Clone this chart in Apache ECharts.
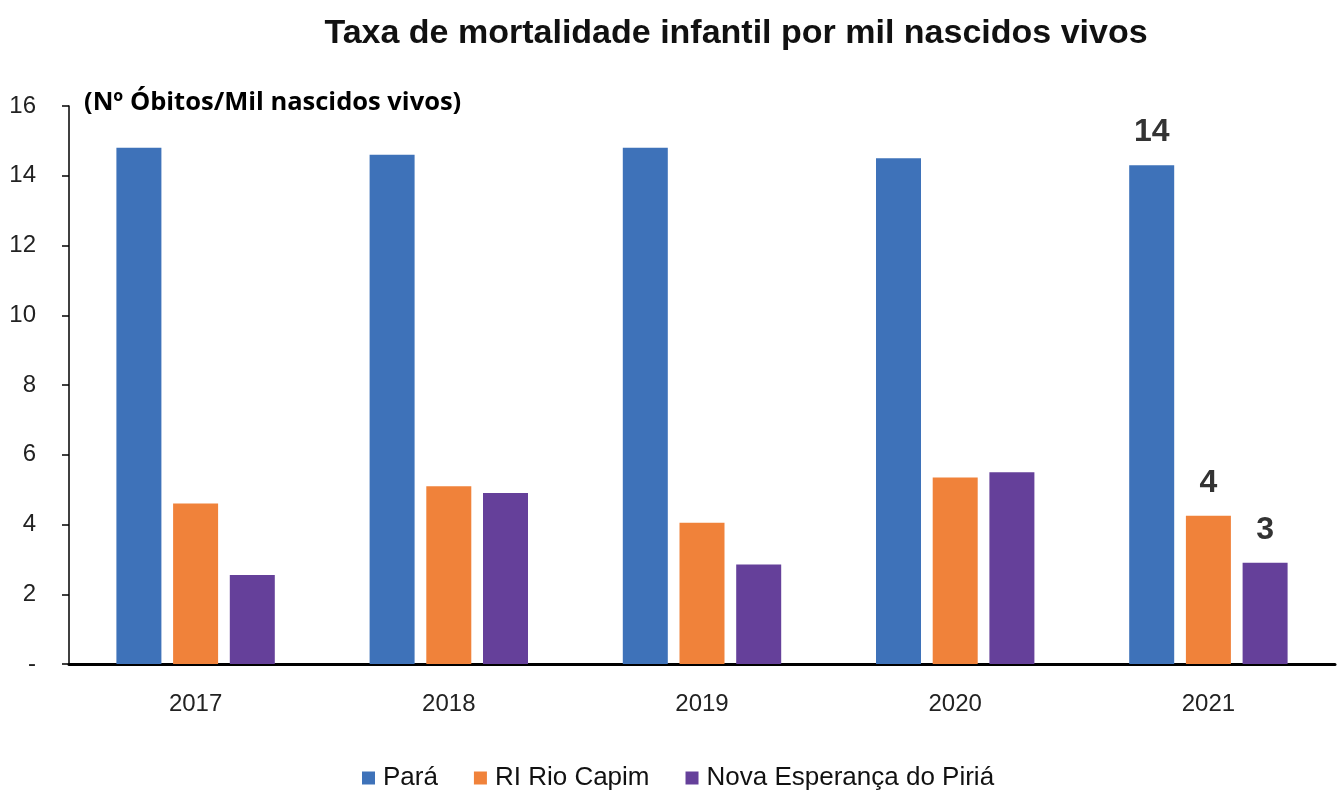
<!DOCTYPE html>
<html>
<head>
<meta charset="utf-8">
<script src="https://cdn.jsdelivr.net/npm/echarts@6/dist/echarts.min.js"></script>
<style>
html,body{margin:0;padding:0;background:#fff;}
#chart{width:1343px;height:793px;}
</style>
</head>
<body>
<div id="chart"></div>
<script>
const categories = ['2017', '2018', '2019', '2020', '2021'];
const para = [14.8, 14.6, 14.8, 14.5, 14.3];
const rioCapim = [4.6, 5.1, 4.05, 5.35, 4.25];
const novaEsperanca = [2.55, 4.9, 2.85, 5.5, 2.9];
const labelsLast = ['14', '4', '3'];

const seriesNames = ['Pará', 'RI Rio Capim', 'Nova Esperança do Piriá'];
const colors = ['#3E72B9', '#F0823A', '#65409A'];
const seriesData = [para, rioCapim, novaEsperanca];

const sans = '"Liberation Sans", Arial, sans-serif';

const chart = echarts.init(document.getElementById('chart'));
chart.setOption({
  animation: false,
  backgroundColor: '#ffffff',
  title: [{
    text: 'Taxa de mortalidade infantil por mil nascidos vivos',
    left: 731, top: 12, textAlign: 'center',
    textStyle: { fontFamily: sans, fontWeight: 'bold', fontSize: 34, color: '#111' }
  }, {
    text: '(Nº Óbitos/Mil nascidos vivos)',
    left: 79, top: 85,
    textStyle: { fontFamily: '"Open Sans", sans-serif', fontWeight: 'bold', fontSize: 25.5, color: '#000' }
  }],
  legend: {
    bottom: -3, left: 357,
    itemWidth: 13, itemHeight: 13, itemGap: 36,
    icon: 'rect',
    textStyle: { fontFamily: sans, fontSize: 26, color: '#111', padding: [0, 0, 0, 3] },
    data: seriesNames
  },
  grid: { left: 69, right: 8, top: 106, bottom: 129, containLabel: false },
  xAxis: {
    type: 'category',
    data: categories,
    axisLine: { lineStyle: { color: '#000', width: 3 } },
    axisTick: { inside: true, length: 9, lineStyle: { color: '#000', width: 3 } },
    axisLabel: { fontFamily: sans, fontSize: 24, color: '#222', margin: 28 }
  },
  yAxis: {
    type: 'value',
    min: 0, max: 16, interval: 2,
    axisLine: { show: true, lineStyle: { color: '#000', width: 1.5 } },
    axisTick: { show: true, length: 7, lineStyle: { color: '#000', width: 1.5 } },
    splitLine: { show: false },
    axisLabel: {
      fontFamily: sans, fontSize: 24, color: '#222', margin: 33,
      formatter: v => v === 0 ? '-' : String(v)
    }
  },
  series: seriesData.map((d, si) => ({
    name: seriesNames[si],
    type: 'bar',
    barWidth: 45,
    barGap: '26%',
    itemStyle: { color: colors[si] },
    data: d.map((v, i) => i === d.length - 1 ? {
      value: v,
      label: {
        show: true, position: 'top', distance: 17,
        formatter: labelsLast[si],
        fontFamily: sans, fontWeight: 'bold', fontSize: 32, color: '#333'
      }
    } : v)
  }))
});
</script>
</body>
</html>
